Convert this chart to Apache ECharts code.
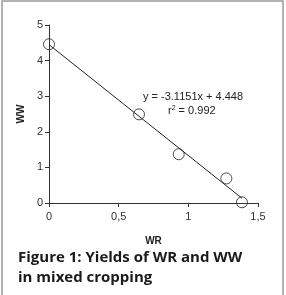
<!DOCTYPE html>
<html lang="en">
<head>
  <meta charset="UTF-8">
  <title>Yields of WR and WW</title>
  <script src="https://cdn.jsdelivr.net/npm/echarts@6.0.0/dist/echarts.min.js"></script>
  <style>
    html, body {
      margin: 0;
      padding: 0;
      background: #fff;
    }

    #main {
      width: 286px;
      height: 295px;
    }
  </style>
</head>
<body>
  <div id="main"></div>
  <script type="text/javascript">
    // data
    var wr = [0, 0.646, 0.931, 1.273, 1.385];
    var ww = [4.46, 2.49, 1.37, 0.69, 0.02];
    var slope = -3.1151;
    var intercept = 4.448;
    var xTicks = [0, 0.5, 1, 1.5];
    var yTicks = [0, 1, 2, 3, 4, 5];

    var points = wr.map(function(x, i) { return [x, ww[i]]; });
    var xMin = Math.min.apply(null, wr);
    var xMax = Math.max.apply(null, wr);
    var trend = [[xMin, slope * xMin + intercept], [xMax, slope * xMax + intercept]];

    var axisColor = '#333';
    var labelFont = 'Liberation Sans';

    var myChart = echarts.init(document.getElementById('main'));

    var option = {
      animation: false,
      grid: { left: 49, right: 28, top: 25, bottom: 92 },
      xAxis: {
        type: 'value',
        min: xTicks[0],
        max: xTicks[xTicks.length - 1],
        interval: 0.5,
        name: 'WR',
        nameLocation: 'middle',
        nameGap: 33,
        nameTextStyle: { fontFamily: labelFont, fontWeight: 'bold', fontSize: 10, color: '#222' },
        splitLine: { show: false },
        axisLine: { lineStyle: { color: axisColor, width: 1 } },
        axisTick: { length: 4, lineStyle: { color: axisColor } },
        axisLabel: {
          fontFamily: labelFont, fontSize: 11, color: '#333', margin: 8,
          formatter: function(v) { return String(v).replace('.', ','); }
        }
      },
      yAxis: {
        type: 'value',
        min: yTicks[0],
        max: yTicks[yTicks.length - 1],
        interval: 1,
        name: 'WW',
        nameLocation: 'middle',
        nameGap: 21,
        nameTextStyle: { fontFamily: labelFont, fontWeight: 'bold', fontSize: 10, color: '#222' },
        splitLine: { show: false },
        axisLine: { show: true, lineStyle: { color: axisColor, width: 1 } },
        axisTick: { show: true, length: 4, lineStyle: { color: axisColor } },
        axisLabel: { fontFamily: labelFont, fontSize: 11, color: '#333', margin: 6 }
      },
      series: [
        {
          type: 'line',
          data: trend,
          symbol: 'none',
          lineStyle: { color: '#222', width: 1 },
          z: 1
        },
        {
          type: 'scatter',
          data: points,
          symbol: 'circle',
          symbolSize: 11,
          itemStyle: { color: 'rgba(255,255,255,0)', borderColor: '#222', borderWidth: 1 },
          z: 2
        }
      ],
      graphic: [
        {
          type: 'rect',
          shape: { x: 2, y: 1, width: 281, height: 300 },
          style: { fill: 'none', stroke: '#999', lineWidth: 1.5 },
          silent: true
        },
        {
          type: 'text',
          left: 143, top: 91,
          style: { text: 'y = -3.1151x + 4.448', fontFamily: labelFont, fontSize: 11, fill: '#222' }
        },
        {
          type: 'text',
          left: 168, top: 105,
          style: {
            text: 'r{sup|2} = 0.992',
            fontFamily: labelFont, fontSize: 11, fill: '#222',
            rich: { sup: { fontFamily: labelFont, fontSize: 7, fill: '#222', verticalAlign: 'top', padding: [0, 0, 5, 0] } }
          }
        },
        {
          type: 'text',
          left: 18, top: 248,
          style: {
            text: 'Figure 1: Yields of WR and WW\nin mixed cropping',
            fontFamily: 'Open Sans', fontWeight: 'bold', fontSize: 15, lineHeight: 20, fill: '#1a1a1a'
          }
        }
      ]
    };

    myChart.setOption(option);
  </script>
</body>
</html>
